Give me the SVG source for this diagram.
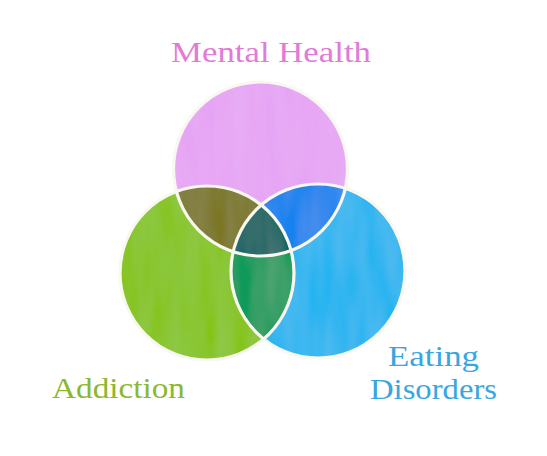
<svg xmlns="http://www.w3.org/2000/svg" width="547" height="456" viewBox="0 0 547 456">
<style>
.lbl{font-family:"Liberation Serif","DejaVu Serif",serif;font-size:30px;font-weight:normal}
.edge{fill:none;stroke:#f8f8f0;stroke-width:3.2}
</style>
<defs>
<clipPath id="cP"><circle cx="260.5" cy="169" r="87"/></clipPath>
<clipPath id="cG"><circle cx="207" cy="273" r="87"/></clipPath>
<clipPath id="cB"><circle cx="318" cy="271" r="87"/></clipPath>
<filter id="wc" x="-10%" y="-10%" width="120%" height="120%">
<feTurbulence type="fractalNoise" baseFrequency="0.06 0.012" numOctaves="2" seed="3" result="n"/>
<feColorMatrix in="n" type="matrix" values="0 0 0 0 1  0 0 0 0 1  0 0 0 0 1  0 0 0 0.1 -0.02" result="w"/>
<feComposite in="w" in2="SourceGraphic" operator="in" result="wi"/>
<feMerge><feMergeNode in="SourceGraphic"/><feMergeNode in="wi"/></feMerge>
</filter>
</defs>
<rect width="547" height="456" fill="#ffffff"/>
<g id="regions" filter="url(#wc)">
<g id="mental-health"><circle cx="260.5" cy="169" r="87" fill="#e6a4f4"/></g>
<g id="addiction"><circle cx="207" cy="273" r="87" fill="#84c416"/></g>
<g id="eating-disorders"><circle cx="318" cy="271" r="87" fill="#28b4f0"/></g>
<g id="mh-add"><circle cx="207" cy="273" r="87" fill="#7a7624" clip-path="url(#cP)"/></g>
<g id="mh-ed"><circle cx="318" cy="271" r="87" fill="#1882ee" clip-path="url(#cP)"/></g>
<g id="add-ed"><circle cx="318" cy="271" r="87" fill="#0a9a5a" clip-path="url(#cG)"/></g>
<g id="all-three" clip-path="url(#cP)"><circle cx="318" cy="271" r="87" fill="#086462" clip-path="url(#cG)"/></g>
</g>
<g id="connectors">
<circle class="edge" cx="260.5" cy="169" r="87"/>
<circle class="edge" cx="207" cy="273" r="87"/>
<circle class="edge" cx="318" cy="271" r="87"/>
</g>
<g id="labels">
<text class="lbl" x="171" y="62" fill="#e27ad6" textLength="200" lengthAdjust="spacingAndGlyphs">Mental Health</text>
<text class="lbl" x="52" y="398" fill="#8ab82e" textLength="133" lengthAdjust="spacingAndGlyphs">Addiction</text>
<text class="lbl" x="388" y="366" fill="#3aa6e0" textLength="91" lengthAdjust="spacingAndGlyphs">Eating</text>
<text class="lbl" x="370" y="399" fill="#3aa6e0" textLength="127" lengthAdjust="spacingAndGlyphs">Disorders</text>
</g>
</svg>
